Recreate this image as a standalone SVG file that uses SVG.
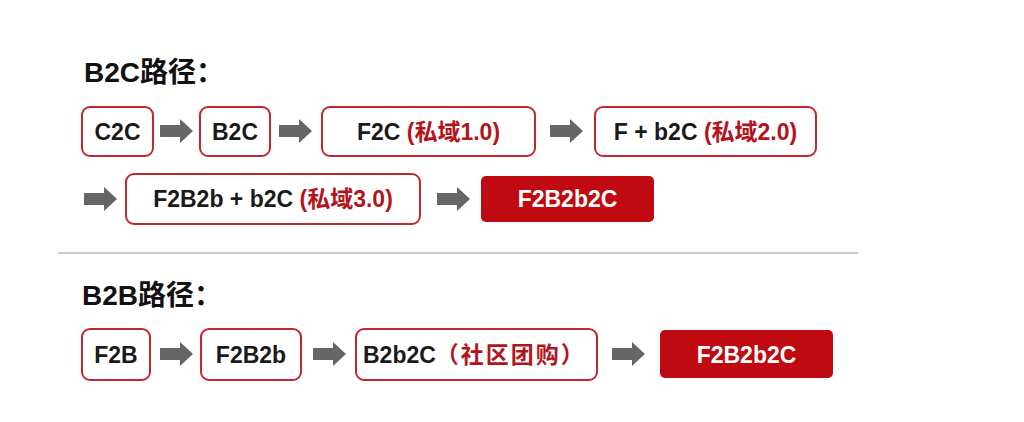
<svg xmlns="http://www.w3.org/2000/svg" width="1024" height="422" viewBox="0 0 1024 422">
<style>
.box{fill:#fff;stroke:#c0282e;stroke-width:2}
.fill{fill:#c00a12;stroke:none}
.t{font-family:"Liberation Sans","Noto Sans CJK SC",sans-serif;font-size:23px;font-weight:bold;fill:#1a1a1a}
.r{fill:#b3141c}
.w{fill:#fff}
.h{font-family:"Liberation Sans","Noto Sans CJK SC",sans-serif;font-size:28px;font-weight:bold;fill:#111}
.arr{fill:#666}
</style>
<defs>
<path id="arrow" d="M0,-6 H20 V-12 L33,0 L20,12 V6 H0 Z"/>
</defs>
<rect width="1024" height="422" fill="#fff"/>
<text class="h" x="84" y="82">B2C路径：</text>
<text class="h" x="82" y="305">B2B路径：</text>
<line x1="58" y1="253" x2="858" y2="253" stroke="#999" stroke-width="1"/>
<g id="connectors" class="arr">
<use href="#arrow" x="160" y="131"/>
<use href="#arrow" x="279" y="131"/>
<use href="#arrow" x="550" y="131"/>
<use href="#arrow" x="84" y="199"/>
<use href="#arrow" x="437" y="199"/>
<use href="#arrow" x="160" y="354"/>
<use href="#arrow" x="313" y="354"/>
<use href="#arrow" x="612" y="354"/>
</g>
<g id="n-c2c"><rect class="box" x="82" y="107" width="71" height="49" rx="8"/><text class="t" x="117.5" y="140" text-anchor="middle">C2C</text></g>
<g id="n-b2c"><rect class="box" x="200" y="107" width="70" height="49" rx="8"/><text class="t" x="235" y="140" text-anchor="middle">B2C</text></g>
<g id="n-f2c"><rect class="box" x="322" y="107" width="213" height="49" rx="8"/><text class="t" x="428.5" y="140" text-anchor="middle">F2C <tspan class="r">(私域1.0)</tspan></text></g>
<g id="n-fb2c"><rect class="box" x="595" y="107" width="221" height="49" rx="8"/><text class="t" x="705.5" y="140" text-anchor="middle">F + b2C <tspan class="r">(私域2.0)</tspan></text></g>
<g id="n-f2b2bb2c"><rect class="box" x="126" y="174" width="294" height="50" rx="8"/><text class="t" x="273" y="207" text-anchor="middle">F2B2b + b2C <tspan class="r">(私域3.0)</tspan></text></g>
<g id="n-f2b2b2c-1"><rect class="fill" x="481" y="176" width="173" height="46" rx="5"/><text class="t w" x="567.5" y="207" text-anchor="middle">F2B2b2C</text></g>
<g id="n-f2b"><rect class="box" x="82" y="329" width="68" height="51" rx="8"/><text class="t" x="116" y="363" text-anchor="middle">F2B</text></g>
<g id="n-f2b2b"><rect class="box" x="201" y="329" width="100" height="51" rx="8"/><text class="t" x="251" y="363" text-anchor="middle">F2B2b</text></g>
<g id="n-b2b2c"><rect class="box" x="356" y="329" width="241" height="51" rx="8"/><text class="t" x="363" y="363">B2b2C<tspan class="r" letter-spacing="2">（社区团购）</tspan></text></g>
<g id="n-f2b2b2c-2"><rect class="fill" x="660" y="330" width="173" height="48" rx="5"/><text class="t w" x="746.5" y="363" text-anchor="middle">F2B2b2C</text></g>
</svg>
